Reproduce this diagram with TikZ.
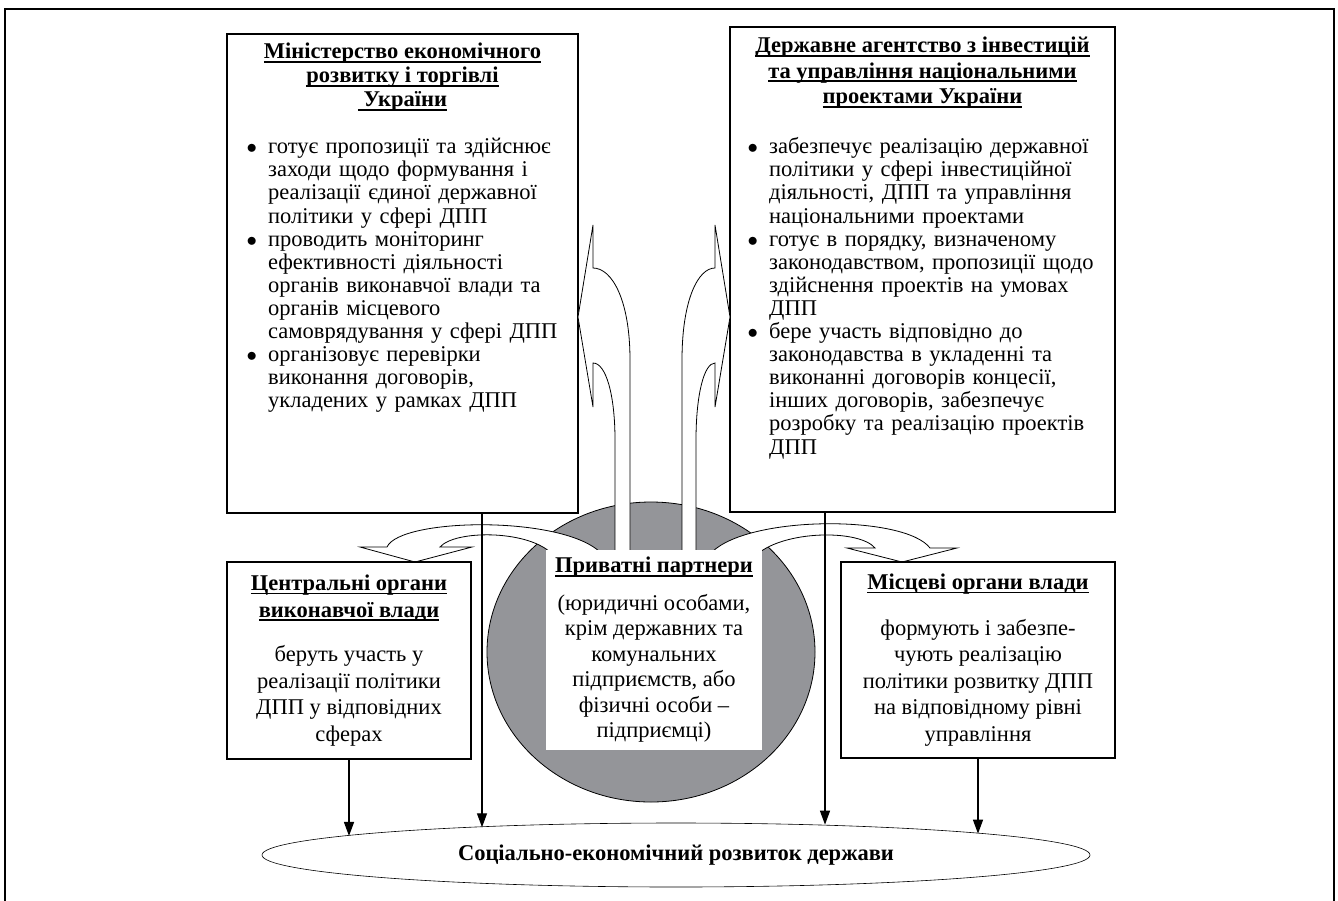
\documentclass[tikz,border=0pt]{standalone}
\usepackage{fontspec}
\setmainfont{Liberation Serif}
\usetikzlibrary{positioning, shapes.geometric, arrows.meta}

\definecolor{grau}{RGB}{148,149,153}
\newcommand{\unter}[1]{\setbox0\hbox{#1}\rlap{\rule[-3.8pt]{\wd0}{1.7pt}}\box0}
\newcommand{\punkt}[1]{\par\noindent\hangindent=21.5pt\hangafter=1\makebox[21.5pt][l]{$\bullet$}#1}

\begin{document}
\begin{tikzpicture}[x=1pt, y=-1pt,
    kasten/.style={draw, line width=1.1pt, fill=white, inner sep=0pt},
    titel/.style={align=center, inner sep=0pt, font=\fontsize{22.5}{24}\selectfont\bfseries},
    liste/.style={align=left, inner sep=0pt, font=\fontsize{22.5}{23.1}\selectfont},
    mittig/.style={align=center, font=\fontsize{22.5}{26.5}\selectfont},
    block/.style={draw, line width=0.8pt, fill=white},
    pfeil/.style={line width=1.4pt, -{Triangle[length=14pt, width=10pt]}}
]
\useasboundingbox (0,0) rectangle (1338,900);

% Rahmen
\draw[line width=2.5pt] (5,910) -- (5,9) -- (1334,9) -- (1334,910);

% Ministerium
\node[kasten, minimum width=351pt, minimum height=479pt] (mbox) at (402.5,273.5) {};
\node[titel, below=9.5pt of mbox.north] (mtitel) {\unter{Міністерство економічного}\\ \unter{розвитку і торгівлі}\\ \unter{\ України}};
\node[liste, text width=330pt, below right=97pt and 20pt of mbox.north west] (mtext) {%
  \punkt{готує пропозиції та здійснює\newline заходи щодо формування і\newline реалізації єдиної державної\newline політики у сфері ДПП}
  \punkt{проводить моніторинг\newline ефективності діяльності\newline органів виконавчої влади та\newline органів місцевого\newline самоврядування у сфері ДПП}
  \punkt{організовує перевірки\newline виконання договорів,\newline укладених у рамках ДПП}\par};

% Agentstvo
\node[kasten, minimum width=385pt, minimum height=485pt] (abox) at (922.5,269.5) {};
\node[titel, font=\fontsize{22.5}{25.5}\selectfont\bfseries, below=10.5pt of abox.north] (atitel) {\unter{Державне агентство з інвестицій}\\ \unter{та управління національними}\\ \unter{проектами України}};
\node[liste, text width=362pt, below right=104pt and 18pt of abox.north west] (atext) {%
  \punkt{забезпечує реалізацію державної\newline політики у сфері інвестиційної\newline діяльності, ДПП та управління\newline національними проектами}
  \punkt{готує в порядку, визначеному\newline законодавством, пропозиції щодо\newline здійснення проектів на умовах\newline ДПП}
  \punkt{бере участь відповідно до\newline законодавства в укладенні та\newline виконанні договорів концесії,\newline інших договорів, забезпечує\newline розробку та реалізацію проектів\newline ДПП}\par};

% Kolo
\node[draw, ellipse, fill=grau, line width=0.8pt, minimum width=328pt, minimum height=300pt] (pp) at (651,652) {};

% strilky vgoru
\draw[block] (630,552) -- (630,360) .. controls (630,300) and (612,268) .. (593,268) -- (593,225) -- (578,317) -- (593,407) -- (593,363) .. controls (606,363) and (615,395) .. (615,440) -- (615,552) -- cycle;
\draw[block] (682,552) -- (682,360) .. controls (682,300) and (698,268) .. (715,268) -- (715,225) -- (730,317) -- (715,407) -- (715,363) .. controls (704,363) and (696,395) .. (696,440) -- (696,552) -- cycle;

% strilky vbik
\draw[block] (387,547) .. controls (400,518) and (560,515) .. (600,552) -- (550,552) .. controls (525,530) and (455,530) .. (440,547) -- (472,547) -- (415,562) -- (360,547) -- cycle;
\draw[block] (712,552) .. controls (750,515) and (905,515) .. (930,548) -- (957,548) -- (902,562) -- (847,548) -- (875,548) .. controls (860,530) and (790,530) .. (760,552) -- cycle;

% Pryvatni partnery
\node[fill=white, inner sep=0pt, minimum width=216pt, minimum height=200pt, align=center, font=\fontsize{22.5}{25.5}\selectfont] (ppbox) at (654,650) {\textbf{\unter{Приватні партнери}}\\[12pt] (юридичні особами,\\ крім державних та\\ комунальних\\ підприємств, або\\ фізичні особи –\\ підприємці)};

% nyzhni bloky
\node[kasten, mittig, minimum width=244pt, minimum height=197pt] (cbox) at (349,660.5) {\textbf{\unter{Центральні органи}}\\ \textbf{\unter{виконавчої влади}}\\[18pt] беруть участь у\\ реалізації політики\\ ДПП у відповідних\\ сферах};
\node[kasten, mittig, minimum width=274pt, minimum height=196pt] (lbox) at (978,660) {\textbf{\unter{Місцеві органи влади}}\\[19pt] формують і забезпе-\\ чують реалізацію\\ політики розвитку ДПП\\ на відповідному рівні\\ управління};

% Rezultat
\node[draw, ellipse, line width=0.6pt, minimum width=828pt, minimum height=64pt, inner sep=0pt, font=\fontsize{22.5}{24}\selectfont\bfseries] (soc) at (676,855) {Соціально-економічний розвиток держави};

% Strilky do rezultatu
\draw[pfeil] (cbox.south) -- ++(0,76.4);
\draw[pfeil] ([xshift=79.5pt]mbox.south) -- ++(0,313.7);
\draw[pfeil] ([xshift=-97.5pt]abox.south) -- ++(0,312.1);
\draw[pfeil] (lbox.south) -- ++(0,75.1);

\end{tikzpicture}
\end{document}
